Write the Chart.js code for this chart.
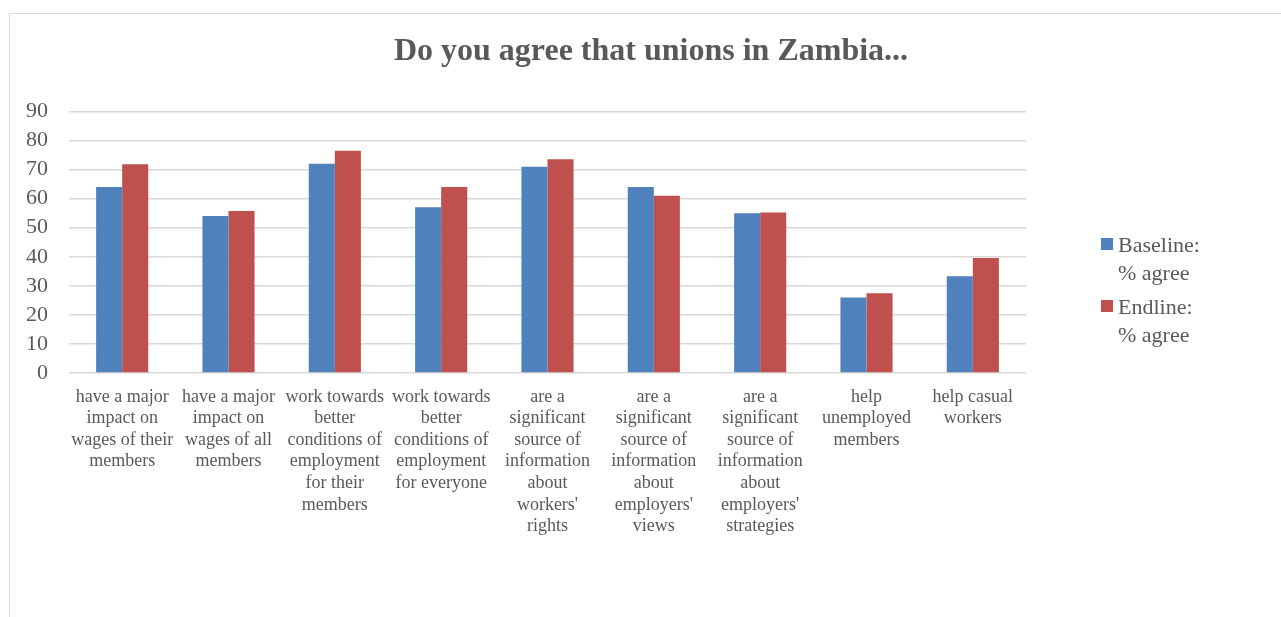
<!DOCTYPE html>
<html>
<head>
<meta charset="utf-8">
<script src="https://cdn.jsdelivr.net/npm/chart.js@4.4.1/dist/chart.umd.min.js"></script>
<style>
  html, body { margin: 0; padding: 0; background: #fff; overflow: hidden; }
  #frame { position: absolute; left: 9px; top: 13px; width: 1290px; height: 700px; border: 1.5px solid #d9d9d9; box-sizing: border-box; }
  #wrap { position: absolute; left: 0; top: 0; width: 1281px; height: 617px; }
  #legend { position: absolute; left: 1100px; top: 231px; font-family: "Liberation Serif", "Times New Roman", serif; font-size: 22px; color: #595959; line-height: 28px; }
  .item { position: relative; padding-left: 18px; margin-bottom: 6px; }
  .box { position: absolute; left: 1px; top: 7px; width: 12px; height: 12px; }
</style>
</head>
<body>
<div id="frame"></div>
<div id="wrap"><canvas id="c" width="1281" height="617"></canvas></div>
<div id="legend"></div>
<script>
const titleText = "Do you agree that unions in Zambia...";
const categories = [
  ["have a major", "impact on", "wages of their", "members"],
  ["have a major", "impact on", "wages of all", "members"],
  ["work towards", "better", "conditions of", "employment", "for their", "members"],
  ["work towards", "better", "conditions of", "employment", "for everyone"],
  ["are a", "significant", "source of", "information", "about", "workers'", "rights"],
  ["are a", "significant", "source of", "information", "about", "employers'", "views"],
  ["are a", "significant", "source of", "information", "about", "employers'", "strategies"],
  ["help", "unemployed", "members"],
  ["help casual", "workers"]
];
const seriesNames = [["Baseline:", "% agree"], ["Endline:", "% agree"]];
const baseline = [64, 54, 72, 57, 71, 64, 55, 26, 33.3];
const endline = [71.8, 55.7, 76.5, 64, 73.5, 61, 55.2, 27.4, 39.6];
const colors = ["#4f81bd", "#c0504d"];

const serif = '"Liberation Serif", "Times New Roman", serif';
const grey = "#595959";

new Chart(document.getElementById("c"), {
  type: "bar",
  data: {
    labels: categories,
    datasets: [
      { label: seriesNames[0].join(" "), data: baseline, backgroundColor: colors[0], categoryPercentage: 0.49, barPercentage: 1.0, yAxisID: "y" },
      { label: seriesNames[1].join(" "), data: endline, backgroundColor: colors[1], categoryPercentage: 0.49, barPercentage: 1.0, yAxisID: "y" }
    ]
  },
  options: {
    responsive: false,
    animation: false,
    layout: { padding: { top: 13, right: 0, left: 21, bottom: 0 } },
    plugins: {
      legend: { display: false },
      tooltip: { enabled: false },
      title: {
        display: true,
        text: titleText,
        color: grey,
        font: { family: serif, size: 32, weight: "bold", lineHeight: 1.2 },
        padding: { top: 20, bottom: 40 }
      }
    },
    scales: {
      x: {
        grid: { display: false, drawTicks: false },
        border: { display: false },
        ticks: { color: grey, font: { family: serif, size: 18, lineHeight: 1.2 }, padding: 13, maxRotation: 0, autoSkip: false },
        afterFit: (s) => { s.height = 617 - 373; }
      },
      y: {
        min: 0, max: 90,
        grid: { color: "#d9d9d9", lineWidth: 1.5, drawTicks: false },
        border: { display: false },
        ticks: { stepSize: 10, autoSkip: false, color: grey, font: { family: serif, size: 22 }, padding: 21 },
        afterFit: (s) => { s.width = 69 - 21; }
      },
      yRight: {
        position: "right",
        min: 0, max: 90,
        grid: { display: false, drawTicks: false },
        border: { display: false },
        ticks: { display: false },
        afterFit: (s) => { s.width = 1281 - 1026; }
      }
    }
  }
});

const leg = document.getElementById("legend");
seriesNames.forEach((lines, i) => {
  const d = document.createElement("div");
  d.className = "item";
  const b = document.createElement("span");
  b.className = "box";
  b.style.background = colors[i];
  d.appendChild(b);
  lines.forEach((t) => {
    const l = document.createElement("div");
    l.textContent = t;
    d.appendChild(l);
  });
  leg.appendChild(d);
});
</script>
</body>
</html>
